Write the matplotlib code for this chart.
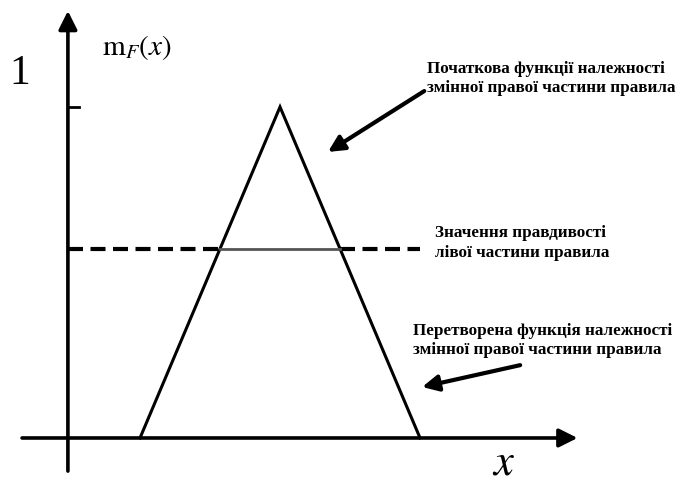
import matplotlib.pyplot as plt
import matplotlib

matplotlib.rcParams['font.family'] = ['Liberation Serif', 'DejaVu Serif']
matplotlib.rcParams['mathtext.fontset'] = 'stix'

# трикутна функція належності (ліва межа, вершина, права межа)
tri_x = [2.0, 6.0, 10.0]
tri_mu = [0.0, 1.0, 0.0]
truth = 0.57          # значення правдивості лівої частини правила
ytick_val = 1.0

label_init = "Початкова функції належності\nзмінної правої частини правила"
label_truth = "Значення правдивості\nлівої частини правила"
label_new = "Перетворена функція належності\nзмінної правої частини правила"

fig = plt.figure(figsize=(6.78, 4.84), dpi=100)
ax = fig.add_axes([0, 0, 1, 1])
ax.set_xlim(-2.0, 17.37)
ax.set_ylim(-0.139, 1.323)
ax.axis('off')

# осі зі стрілками
ax.annotate('', xy=(14.5, 0), xytext=(-1.37, 0),
            arrowprops=dict(arrowstyle='-|>', lw=2.6, color='black',
                            mutation_scale=28, shrinkA=0, shrinkB=0))
ax.annotate('', xy=(-0.06, 1.29), xytext=(-0.06, -0.1),
            arrowprops=dict(arrowstyle='-|>', lw=2.6, color='black',
                            mutation_scale=28, shrinkA=0, shrinkB=0))
ax.plot([-0.06, 0.25], [ytick_val, ytick_val], color='black', lw=2)
ax.text(-1.45, 1.1, '1', fontsize=30, ha='center', va='center')
ax.text(0.9, 1.18, r'$\mathrm{m}_F(x)$', fontsize=21, ha='left', va='center')
ax.text(12.4, -0.076, r'$x$', fontsize=32, ha='center', va='center')

# трикутник
ax.plot(tri_x, tri_mu, color='black', lw=2.2, solid_joinstyle='miter')

# рівень правдивості: пунктир поза трикутником, суцільна лінія всередині
left_cut = tri_x[0] + truth * (tri_x[1] - tri_x[0])
right_cut = tri_x[2] - truth * (tri_x[2] - tri_x[1])
ax.plot([-0.06, left_cut], [truth, truth], color='black', lw=3,
        linestyle=(0, (3.6, 1.8)))
ax.plot([right_cut, tri_x[2]], [truth, truth], color='black', lw=3,
        linestyle=(0, (3.6, 1.8)))
ax.plot([left_cut, right_cut], [truth, truth], color='#555555', lw=2)

# підписи зі стрілками
fs = 12.3
ax.annotate(label_init, xy=(7.37, 0.864), xytext=(10.2, 1.085),
            fontsize=fs, fontweight='bold', ha='left', va='center',
            linespacing=1.25,
            arrowprops=dict(arrowstyle='-|>', lw=3, color='black',
                            mutation_scale=24, shrinkA=0, shrinkB=0,
                            relpos=(0, 0.2)))
ax.text(10.43, 0.589, label_truth, fontsize=fs, fontweight='bold',
        ha='left', va='center', linespacing=1.3)
ax.text(9.8, 0.293, label_new, fontsize=fs, fontweight='bold',
        ha='left', va='center', linespacing=1.25)
ax.annotate('', xy=(10.06, 0.154), xytext=(12.86, 0.22),
            arrowprops=dict(arrowstyle='-|>', lw=3, color='black',
                            mutation_scale=24, shrinkA=0, shrinkB=0))

fig.savefig('out.png', dpi=100)
